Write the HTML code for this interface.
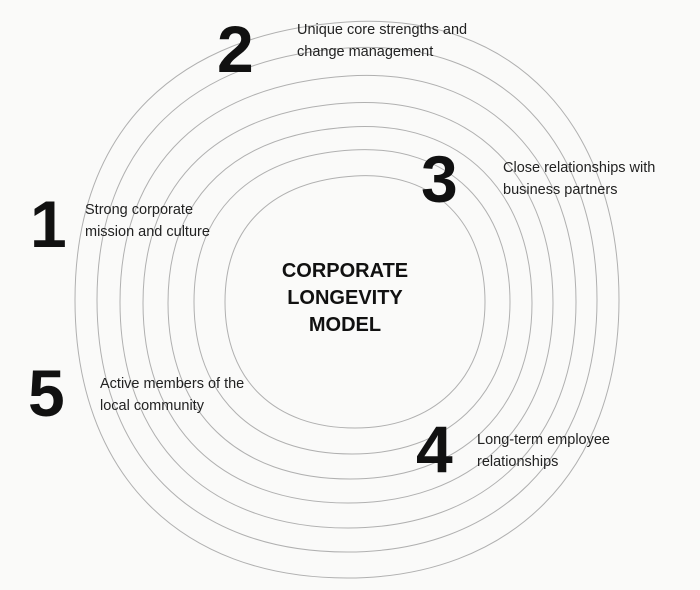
<!DOCTYPE html>
<html><head><meta charset="utf-8"><style>
html,body{margin:0;padding:0}
body{width:700px;height:590px;background:#fafaf9;position:relative;overflow:hidden;font-family:"Liberation Sans",sans-serif;color:#1a1a1a}
.n{position:absolute;font-weight:bold;font-size:66px;line-height:1;color:#111}
.l{position:absolute;font-size:14.5px;line-height:22px;color:#222}
.c{position:absolute;left:245px;top:258px;width:200px;text-align:center;font-weight:bold;font-size:20px;line-height:27px;color:#111}
svg{position:absolute;left:0;top:0}
</style></head><body>
<svg width="700" height="590">
<g fill="none" stroke="#b0b0b0" stroke-width="1">
<path d="M355,176 C435.6,170.96 485,223.88 485,302 C485,380.12 433,428 355,428 C274.4,428 225,380.12 225,302 C225,223.88 274.4,181.04 355,176 Z"/>
<path d="M352,150 C449.96,143.92 510,207.76 510,302 C510,396.24 446.8,454 352,454 C254.04,454 194,396.24 194,302 C194,207.76 254.04,156.08 352,150 Z"/>
<path d="M350,127 C462.84,119.96 532,193.88 532,303 C532,412.12 459.2,479 350,479 C237.16,479 168,412.12 168,303 C168,193.88 237.16,134.04 350,127 Z"/>
<path d="M348,103 C475.1,95 553,179 553,303 C553,427 471,503 348,503 C220.9,503 143,427 143,303 C143,179 220.9,111 348,103 Z"/>
<path d="M348,76 C489.36,66.96 576,161.88 576,302 C576,442.12 484.8,528 348,528 C206.64,528 120,442.12 120,302 C120,161.88 206.64,85.04 348,76 Z"/>
<path d="M347,48 C502,37.92 597,143.76 597,300 C597,456.24 497,552 347,552 C192,552 97,456.24 97,300 C97,143.76 192,58.08 347,48 Z"/>
<path d="M347,22 C515.64,10.88 619,127.64 619,300 C619,472.36 510.2,578 347,578 C178.36,578 75,472.36 75,300 C75,127.64 178.36,33.12 347,22 Z"/>
</g>
</svg>
<div class="n" style="left:217px;top:16px">2</div>
<div class="l" style="left:297px;top:19px">Unique core strengths and<br>change management</div>
<div class="n" style="left:421px;top:146px">3</div>
<div class="l" style="left:503px;top:157px">Close relationships with<br>business partners</div>
<div class="n" style="left:30px;top:191px">1</div>
<div class="l" style="left:85px;top:199px">Strong corporate<br>mission and culture</div>
<div class="n" style="left:28px;top:360px">5</div>
<div class="l" style="left:100px;top:373px">Active members of the<br>local community</div>
<div class="n" style="left:416px;top:416px">4</div>
<div class="l" style="left:477px;top:429px">Long-term employee<br>relationships</div>
<div class="c">CORPORATE<br>LONGEVITY<br>MODEL</div>
</body></html>
